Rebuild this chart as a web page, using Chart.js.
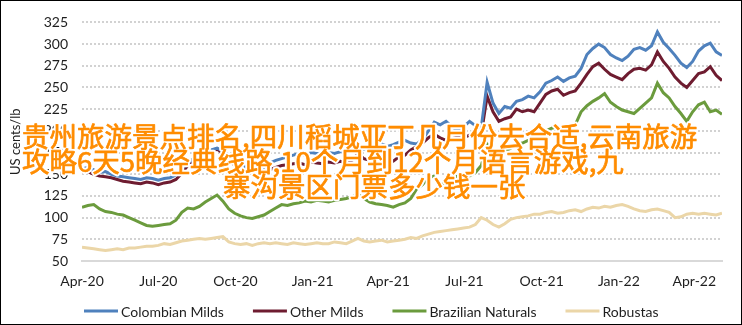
<!DOCTYPE html>
<html>
<head>
<meta charset="utf-8">
<script src="https://cdn.jsdelivr.net/npm/chart.js@4"></script>
<style>
  html, body { margin: 0; padding: 0; background: #fff; }
  #priceChart { display: block; outline: 1px solid #000; outline-offset: -1px; }
</style>
</head>
<body>
<canvas id="priceChart" width="742" height="325"></canvas>
<script>
// ICO group indicator prices, weekly, starting 1 Apr 2020 (US cents/lb)
const startDay = 0;
const stepDays = 7;

const seriesNames = ['Colombian Milds', 'Other Milds', 'Brazilian Naturals', 'Robustas'];
const seriesColors = ['#4f81bd', '#6e1c30', '#6b9b3d', '#ebd6a8'];

const colombianMilds = [
    156, 158, 155, 152, 153, 150, 148, 147, 146, 145,
    144, 146, 145, 143, 145, 146, 149, 156, 163, 168,
    170, 175, 178, 180, 177, 172, 166, 161, 158, 160,
    162, 158, 163, 166, 168, 170, 172, 174, 172, 175,
    174, 173, 175, 174, 176, 175, 177, 181, 179, 181,
    183, 185, 182, 184, 187, 189, 186, 185, 190, 200,
    210, 207, 211, 205, 200, 205, 211, 206, 204, 256,
    232, 220, 228, 226, 234, 236, 240, 238, 245, 255,
    258, 262, 257, 261, 263, 272, 288, 295, 300, 296,
    288, 284, 281, 286, 294, 296, 293, 298, 314, 302,
    295, 287, 278, 273, 280, 292, 298, 301, 291, 287
];

const otherMilds = [
    152, 153, 150, 148, 147, 146, 144, 142, 141, 140,
    139, 141, 140, 138, 140, 141, 144, 151, 160, 165,
    168, 173, 175, 179, 174, 168, 160, 154, 152, 154,
    156, 152, 155, 158, 160, 161, 162, 163, 161, 164,
    163, 162, 164, 163, 165, 163, 166, 174, 168, 166,
    165, 164, 166, 165, 170, 172, 178, 182, 186, 192,
    196, 192, 189, 191, 193, 192, 195, 192, 196, 240,
    222, 211, 214, 216, 225, 222, 224, 222, 232, 242,
    246, 248, 241, 244, 246, 255, 265, 274, 278, 271,
    265, 262, 259, 266, 271, 272, 270, 276, 291, 280,
    272, 262, 255, 250, 258, 266, 268, 274, 264, 258
];

const brazilianNaturals = [
    112, 114, 115, 110, 107, 106, 104, 103, 100, 97,
    94, 91, 90, 91, 92, 93, 97, 106, 111, 110,
    113, 118, 122, 126, 119, 110, 105, 102, 100, 99,
    101, 103, 107, 111, 115, 114, 116, 117, 119, 118,
    120, 119, 118, 120, 121, 122, 124, 127, 122, 118,
    116, 115, 114, 112, 115, 117, 122, 133, 138, 146,
    148, 138, 140, 146, 148, 145, 148, 152, 160, 185,
    178, 174, 176, 180, 184, 186, 189, 192, 198, 200,
    203, 205, 202, 204, 207, 222, 229, 234, 238, 243,
    233, 228, 224, 222, 220, 226, 232, 238, 255, 244,
    238, 228, 220, 211, 222, 230, 233, 222, 224, 219
];

const robustas = [
    66, 65, 64, 63, 62, 63, 64, 63, 65, 65,
    66, 67, 67, 68, 70, 69, 71, 73, 74, 75,
    76, 75, 76, 77, 78, 72, 70, 69, 70, 68,
    70, 71, 70, 71, 70, 69, 71, 70, 69, 70,
    71, 70, 70, 72, 71, 70, 73, 76, 73, 72,
    73, 74, 72, 73, 74, 75, 77, 76, 79, 81,
    83, 84, 85, 86, 87, 88, 89, 92, 100, 97,
    92, 89, 93, 98, 100, 101, 102, 104, 104, 106,
    107, 105, 106, 108, 109, 107, 110, 112, 111, 113,
    112, 114, 115, 113, 110, 108, 107, 109, 110, 108,
    106, 100, 101, 104, 105, 104, 105, 104, 103, 105
];

// quarter starts, in days from 1 Apr 2020
const tickDays = [0, 91, 183, 275, 365, 456, 548, 640, 730];
const tickLabels = ['Apr-20', 'Jul-20', 'Oct-20', 'Jan-21', 'Apr-21', 'Jul-21', 'Oct-21', 'Jan-22', 'Apr-22'];

const bannerLines = [
    '贵州旅游景点排名,四川稻城亚丁几月份去合适,云南旅游',
    '攻略6天5晚经典线路,10个月到12个月语言游戏,九',
    '寨沟景区门票多少钱一张'
];

const allSeries = [colombianMilds, otherMilds, brazilianNaturals, robustas];
const lastDay = startDay + (colombianMilds.length - 1) * stepDays;

function toPoints(values) {
    return values.map((v, i) => ({ x: startDay + i * stepDays, y: v }));
}

const uiFont = 'Lato, "Open Sans", sans-serif';

// legend drawn as a line sample followed by the label, centred under the axis
const lineLegend = {
    id: 'lineLegend',
    afterDraw(chart) {
        const ctx = chart.ctx;
        const y = 311;
        const sample = 34, gap = 3, spacing = 29;
        ctx.save();
        ctx.font = '14px ' + uiFont;
        ctx.textBaseline = 'middle';
        const widths = chart.data.datasets.map(ds => ctx.measureText(ds.label).width);
        const total = widths.reduce((s, w) => s + sample + gap + w, 0) + spacing * (widths.length - 1);
        let x = Math.round((chart.width - total) / 2);
        chart.data.datasets.forEach((ds, i) => {
            ctx.fillStyle = ds.borderColor;
            ctx.fillRect(x, y - 1.5, sample, 3);
            ctx.fillStyle = '#1e1e1e';
            ctx.fillText(ds.label, x + sample + gap, y + 1);
            x += sample + gap + widths[i] + spacing;
        });
        ctx.restore();
    }
};

// orange caption lines over the plot
const banner = {
    id: 'banner',
    afterDraw(chart) {
        const ctx = chart.ctx;
        const rows = [[22, 137], [22, 162], [223, 187]];
        ctx.save();
        ctx.font = '27.5px "Noto Sans CJK SC", sans-serif';
        ctx.textBaseline = 'middle';
        ctx.lineJoin = 'round';
        bannerLines.forEach((line, i) => {
            ctx.lineWidth = 4.5;
            ctx.strokeStyle = '#ffffff';
            ctx.strokeText(line, rows[i][0], rows[i][1]);
        });
        bannerLines.forEach((line, i) => {
            ctx.fillStyle = '#ff8c00';
            ctx.fillText(line, rows[i][0], rows[i][1]);
            ctx.lineWidth = 0.7;
            ctx.strokeStyle = '#ff8c00';
            ctx.strokeText(line, rows[i][0], rows[i][1]);
        });
        ctx.restore();
    }
};

const ctx = document.getElementById('priceChart').getContext('2d');
new Chart(ctx, {
    type: 'line',
    data: {
        datasets: seriesNames.map((name, i) => ({
            label: name,
            data: toPoints(allSeries[i]),
            borderColor: seriesColors[i],
            backgroundColor: seriesColors[i],
            borderWidth: 3,
            pointRadius: 0,
            tension: 0,
            fill: false
        }))
    },
    options: {
        responsive: false,
        animation: false,
        devicePixelRatio: 1,
        layout: { padding: { top: 15, right: 20, left: 0, bottom: 0 } },
        plugins: {
            legend: { display: false },
            tooltip: { enabled: false }
        },
        scales: {
            x: {
                type: 'linear',
                min: startDay,
                max: lastDay,
                afterBuildTicks: scale => {
                    scale.ticks = tickDays.map(v => ({ value: v }));
                },
                afterFit: scale => { scale.height = 64; },
                grid: { display: false, drawTicks: false },
                border: { display: true, color: '#d9d9d9', width: 2 },
                ticks: {
                    autoSkip: false,
                    maxRotation: 0,
                    padding: 12,
                    color: '#1e1e1e',
                    font: { family: uiFont, size: 14 },
                    callback: (value, index) => tickLabels[index]
                }
            },
            y: {
                min: 50,
                max: 325,
                afterFit: scale => { scale.width = 82; },
                grid: { color: '#d2d2d2', lineWidth: 2, drawTicks: false },
                border: { display: false, dash: [2, 2] },
                ticks: {
                    stepSize: 25,
                    padding: 14,
                    color: '#1e1e1e',
                    font: { family: uiFont, size: 14 }
                },
                title: {
                    display: true,
                    text: 'US cents/lb',
                    color: '#1e1e1e',
                    padding: { top: 8, bottom: 0 },
                    font: { family: uiFont, size: 13 }
                }
            }
        }
    },
    plugins: [lineLegend, banner]
});
</script>
</body>
</html>
